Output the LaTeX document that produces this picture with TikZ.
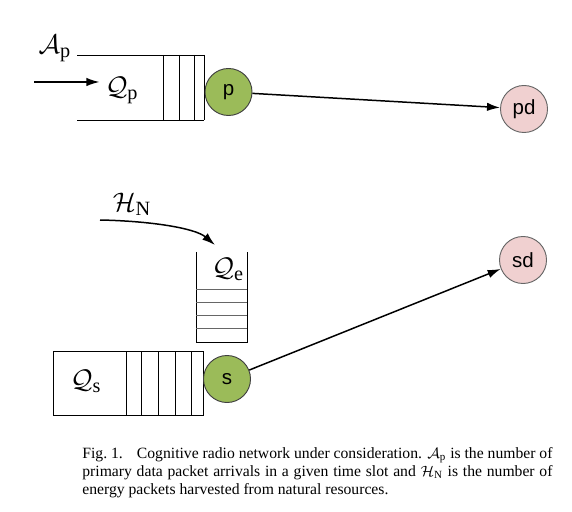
\documentclass[tikz,border=0pt]{standalone}
\usepackage{amsmath}
\usepackage{fontspec}
\setmainfont{Liberation Serif}
\newfontfamily\nodefont{Liberation Sans}
\usetikzlibrary{arrows.meta}
\definecolor{srcgreen}{HTML}{9BBB59}
\definecolor{dstpink}{HTML}{F0D0D0}

\tikzset{
  srcnode/.style={circle, draw=black!75, fill=srcgreen, line width=0.5pt,
    minimum size=25.2pt, inner sep=0pt, font=\nodefont\fontsize{11}{13}\selectfont},
  dstnode/.style={circle, draw=black!60, fill=dstpink, line width=0.5pt,
    minimum size=25.2pt, inner sep=0pt, font=\nodefont\fontsize{11}{13}\selectfont},
  qline/.style={line width=0.5pt},
  lab/.style={inner sep=0pt, font=\fontsize{15.5}{17}\selectfont},
  link/.style={line width=0.8pt, -{Latex[length=7pt, width=4.5pt]}}
}

\begin{document}
\begin{tikzpicture}[x=0.536pt, y=-0.536pt, >=Latex]
  \useasboundingbox (0,0) rectangle (572,512);

  % primary data queue
  \draw[qline] (77,55) -- (204,55);
  \draw[qline] (77,120) -- (204,120);
  \foreach \x in {163,179,194,204}{
    \draw[qline] (\x,55) -- (\x,120);
  }

  % secondary data queue
  \draw[qline] (53,351) rectangle (203,415);
  \foreach \x in {126,141,158,175,191}{
    \draw[qline] (\x,351) -- (\x,415);
  }

  % energy queue
  \draw[qline] (196,252) -- (196,342) -- (247,342) -- (247,252);
  \foreach \y in {289,302,315,328}{
    \draw[qline, black!60] (196,\y) -- (247,\y);
  }

  \node[srcnode] (p) at (228.5,92) {p};
  \node[srcnode] (s) at (227,379) {s};
  \node[dstnode] (pd) at (524,109) {pd};
  \node[dstnode] (sd) at (523,260) {sd};

  \node[lab] (Ap) at (55,48) {$\mathcal{A}_{\mathrm{p}}$};
  \node[lab] (Qp) at (122,90) {$\mathcal{Q}_{\mathrm{p}}$};
  \node[lab] (HN) at (132,204) {$\mathcal{H}_{\mathrm{N}}$};
  \node[lab] (Qe) at (228,269) {$\mathcal{Q}_{\mathrm{e}}$};
  \node[lab] (Qs) at (86,381) {$\mathcal{Q}_{\mathrm{s}}$};

  \coordinate (pin) at (34,82);
  \coordinate (hin) at (100,220);
  \coordinate (etop) at (215,245);

  \draw[link] (pin) -- ([xshift=-3pt]pin -| Qp.west);
  \draw[link] (hin) .. controls (150,221) and (195,228) .. (etop);
  \draw[link] (p) -- (pd);
  \draw[link] (s) -- (sd);

  \node[anchor=north west, inner sep=0pt, text width=252pt, align=justify,
    font=\fontsize{8.4}{9.7}\selectfont] (cap) at (82,447)
    {\hyphenpenalty=10000 Fig.~1.\hskip 0.9em Cognitive radio network under consideration. $\mathcal{A}_{\mathrm{p}}$ is the number of primary data packet arrivals in a given time slot and $\mathcal{H}_{\mathrm{N}}$ is the number of energy packets harvested from natural resources.};
\end{tikzpicture}
\end{document}
